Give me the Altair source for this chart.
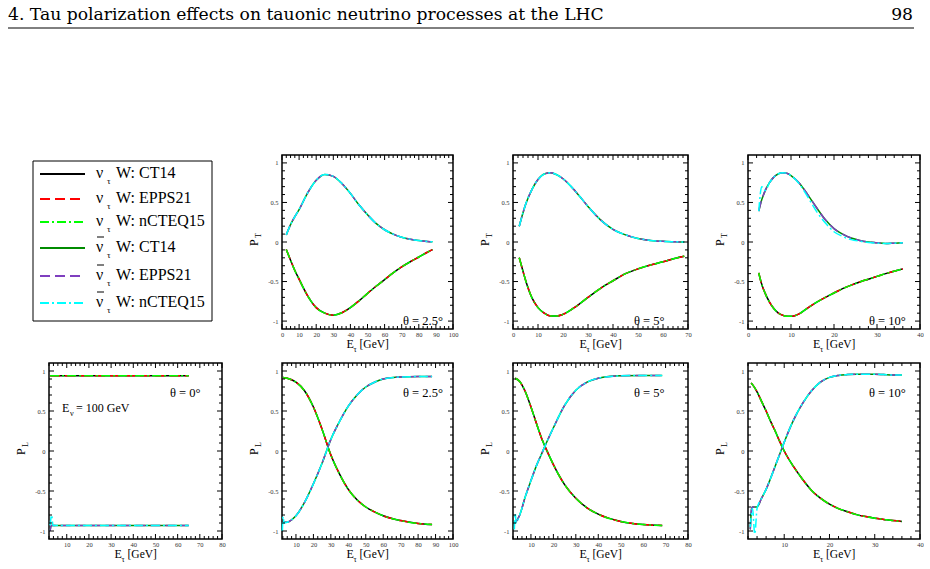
import altair as alt
import pandas as pd

FONT = "Liberation Serif"

# ---------------------------------------------------------------
# Polarisation curves (E_tau in GeV, polarisation value)
# ---------------------------------------------------------------
# P_T, theta = 2.5 deg
PT25_E = [2.5, 5, 7.5, 10, 15, 20, 25, 30, 35, 40, 45, 50, 55, 60, 65, 70, 75, 80, 85, 88]
PT25_NU = [-0.095, -0.23, -0.36, -0.47, -0.68, -0.83, -0.90, -0.925, -0.895, -0.83,
           -0.745, -0.65, -0.56, -0.475, -0.39, -0.315, -0.25, -0.19, -0.13, -0.097]
PT25_NUBAR = [0.09, 0.22, 0.32, 0.41, 0.62, 0.78, 0.855, 0.83, 0.74, 0.615,
              0.47, 0.345, 0.235, 0.155, 0.10, 0.06, 0.035, 0.018, 0.007, 0.003]

# P_T, theta = 5 deg
PT5_E = [2.5, 4, 5, 7.5, 10, 12.5, 15, 17.5, 20, 25, 30, 35, 40, 45, 50, 55, 60, 65, 68.5]
PT5_NU = [-0.20, -0.37, -0.48, -0.70, -0.83, -0.90, -0.935, -0.935, -0.915, -0.82,
          -0.70, -0.585, -0.49, -0.40, -0.34, -0.29, -0.25, -0.205, -0.18]
PT5_NUBAR = [0.20, 0.37, 0.47, 0.66, 0.79, 0.86, 0.875, 0.85, 0.80, 0.64,
             0.45, 0.28, 0.16, 0.09, 0.045, 0.02, 0.008, 0.003, 0.0]

# P_T, theta = 10 deg
PT10_E = [2.5, 3, 4, 5, 6, 7, 8, 9, 10, 12, 14, 16, 18, 20, 22, 24, 26, 28, 30, 32, 34, 36]
PT10_NU = [-0.39, -0.50, -0.65, -0.76, -0.84, -0.895, -0.925, -0.94, -0.94, -0.905, -0.83,
           -0.76, -0.70, -0.645, -0.59, -0.545, -0.505, -0.47, -0.435, -0.40, -0.37, -0.34]
PT10_NUBAR = [0.39, 0.50, 0.65, 0.75, 0.82, 0.86, 0.875, 0.87, 0.84, 0.74, 0.59,
              0.43, 0.28, 0.17, 0.10, 0.05, 0.02, 0.0, -0.01, -0.02, -0.015, -0.01]
PT10_NUBAR_NCTEQ_E = [2.5, 3.2, 4, 5, 6, 7, 8, 9, 10, 12, 14, 16, 18, 20, 22, 24, 26, 28, 30, 32, 34, 36]
PT10_NUBAR_NCTEQ = [0.39, 0.70, 0.65, 0.75, 0.82, 0.86, 0.875, 0.87, 0.84, 0.73, 0.56,
                    0.38, 0.24, 0.13, 0.07, 0.03, 0.01, -0.005, -0.015, -0.02, -0.015, -0.01]

# P_L, theta = 0 deg
PL0_E = [2.5, 65]
PL0_NU = [0.94, 0.94]
PL0_NUBAR_E = [2.5, 3.0, 20, 40, 65]
PL0_NUBAR = [-1.0, -0.93, -0.93, -0.93, -0.93]
PL0_NUBAR_NCTEQ_E = [2.5, 3.2, 3.8, 20, 40, 65]
PL0_NUBAR_NCTEQ = [-0.93, -0.80, -0.93, -0.93, -0.93, -0.93]

# P_L, theta = 2.5 deg
PL25_E = [2.5, 5, 7.5, 10, 15, 20, 25, 30, 35, 40, 45, 50, 55, 60, 70, 80, 88]
PL25_NU = [0.92, 0.91, 0.89, 0.86, 0.75, 0.55, 0.27, -0.05, -0.29, -0.48, -0.61,
           -0.70, -0.76, -0.81, -0.87, -0.905, -0.92]
PL25_NUBAR = [-0.89, -0.89, -0.86, -0.81, -0.64, -0.41, -0.15, 0.145, 0.37, 0.56,
              0.70, 0.80, 0.86, 0.90, 0.925, 0.93, 0.93]
PL25_NUBAR_NCTEQ_E = [2.2, 2.6, 3.2, 5, 7.5, 10, 15, 20, 25, 30, 35, 40, 45, 50, 55, 60, 70, 80, 88]
PL25_NUBAR_NCTEQ = [-1.0, -0.82, -0.90, -0.89, -0.86, -0.81, -0.64, -0.41, -0.15, 0.145,
                    0.37, 0.56, 0.70, 0.80, 0.86, 0.90, 0.925, 0.93, 0.93]

# P_L, theta = 5 deg
PL5_E = [3, 5, 7.5, 10, 12.5, 15, 17.5, 20, 25, 30, 35, 40, 50, 60, 68.5]
PL5_NU = [0.91, 0.87, 0.74, 0.55, 0.34, 0.14, -0.02, -0.17, -0.42, -0.59, -0.71,
          -0.79, -0.88, -0.92, -0.93]
PL5_NUBAR = [-0.90, -0.80, -0.57, -0.37, -0.18, -0.02, 0.14, 0.29, 0.57, 0.76, 0.86,
             0.91, 0.94, 0.945, 0.945]
PL5_NUBAR_NCTEQ_E = [2.6, 3.0, 3.4, 5, 7.5, 10, 12.5, 15, 17.5, 20, 25, 30, 35, 40, 50, 60, 68.5]
PL5_NUBAR_NCTEQ = [-0.98, -0.78, -0.90, -0.80, -0.57, -0.37, -0.18, -0.02, 0.14, 0.29,
                   0.57, 0.76, 0.86, 0.91, 0.94, 0.945, 0.945]

# P_L, theta = 10 deg
PL10_E = [2.7, 3, 4, 5, 6, 7, 8, 9, 10, 12, 14, 16, 18, 20, 22, 24, 26, 28, 30, 32, 34, 36]
PL10_NU = [0.85, 0.83, 0.74, 0.62, 0.50, 0.37, 0.25, 0.12, 0.0, -0.19, -0.35, -0.49,
           -0.59, -0.665, -0.72, -0.76, -0.795, -0.82, -0.84, -0.855, -0.87, -0.88]
PL10_NUBAR_E = [2.5, 2.8, 3.0, 4, 5, 6, 7, 8, 9, 10, 12, 14, 16, 18, 20, 22, 24, 26, 28, 30, 32, 34, 36]
PL10_NUBAR = [-0.98, -0.72, -0.70, -0.70, -0.59, -0.48, -0.34, -0.19, -0.04, 0.11, 0.38,
              0.59, 0.75, 0.86, 0.92, 0.945, 0.955, 0.96, 0.96, 0.96, 0.955, 0.95, 0.95]
PL10_NUBAR_NCTEQ_E = [2.5, 3.0, 3.5, 4, 5, 6, 7, 8, 9, 10, 12, 14, 16, 18, 20, 22, 24, 26, 28, 30, 32, 34, 36]
PL10_NUBAR_NCTEQ = [-0.95, -0.72, -1.04, -0.72, -0.59, -0.48, -0.34, -0.19, -0.04, 0.11, 0.38,
                    0.59, 0.75, 0.86, 0.92, 0.945, 0.955, 0.96, 0.96, 0.96, 0.955, 0.95, 0.95]

# ---------------------------------------------------------------
# Series styles: (particle, PDF set, colour, dash)
# ---------------------------------------------------------------
SERIES = [
    ("nu", "CT14", "#000000", None),
    ("nu", "EPPS21", "#ff0000", [10, 5]),
    ("nu", "nCTEQ15", "#00ff00", [9, 3, 2, 3]),
    ("nubar", "CT14", "#008b00", None),
    ("nubar", "EPPS21", "#7f3fbf", [10, 5]),
    ("nubar", "nCTEQ15", "#00ffff", [9, 3, 2, 3]),
]
LEGEND_PDF = ["CT14", "EPPS21", "nCTEQ15", "CT14", "EPPS21", "nCTEQ15"]

Y_MAJOR = [-1, -0.5, 0, 0.5, 1]
Y_MINOR = [round(-1.0 + 0.1 * i, 1) for i in range(21) if i % 5 != 0]


def text_layer(s, x, y, size, angle=0, align="left", baseline="alphabetic", font=FONT):
    return alt.Chart(pd.DataFrame({"t": [s]})).mark_text(
        font=font, fontSize=size, angle=angle, align=align, baseline=baseline, color="black"
    ).encode(text="t:N", x=alt.value(x), y=alt.value(y))


def panel(curves, xdom, xmajor, xminor, w, h, sub, theta, theta_y, extra=None):
    xscale = alt.Scale(domain=xdom, nice=False, zero=False)
    yscale = alt.Scale(domain=[-1.1, 1.1], nice=False, zero=False)
    xaxis = alt.Axis(values=xmajor, ticks=False, tickSize=0, domain=False, grid=False,
                     labelFont=FONT, labelFontSize=6.5, labelColor="#333", labelPadding=2,
                     labelExpr="'' + datum.value", title=None, labelFlush=False)
    yaxis = alt.Axis(values=Y_MAJOR, ticks=False, tickSize=0, domain=False, grid=False,
                     labelFont=FONT, labelFontSize=6.5, labelColor="#333", labelPadding=4,
                     labelExpr="'' + datum.value", title=None, labelFlush=False)

    def X(f):
        return alt.X(f, type="quantitative", scale=xscale, axis=xaxis)

    def Y(f):
        return alt.Y(f, type="quantitative", scale=yscale, axis=yaxis)

    layers = []
    for part, pdf, color, dash in SERIES:
        E, P = curves.get((part, pdf), curves[(part, "CT14")])
        df = pd.DataFrame({"E": E, "P": P})
        kw = dict(color=color, strokeWidth=1.5, interpolate="monotone")
        if dash:
            kw["strokeDash"] = dash
        layers.append(alt.Chart(df).mark_line(**kw).encode(x=X("E"), y=Y("P")))

    # inward ticks on all four sides
    for vals, ln in ((xmajor, 5), (xminor, 3)):
        base = alt.Chart(pd.DataFrame({"v": vals})).mark_rule(color="black", strokeWidth=1)
        layers.append(base.encode(x=X("v"), y=alt.value(h), y2=alt.value(h - ln)))
        layers.append(base.encode(x=X("v"), y=alt.value(0), y2=alt.value(ln)))
    for vals, ln in ((Y_MAJOR, 5), (Y_MINOR, 3)):
        base = alt.Chart(pd.DataFrame({"v": vals})).mark_rule(color="black", strokeWidth=1)
        layers.append(base.encode(y=Y("v"), x=alt.value(0), x2=alt.value(ln)))
        layers.append(base.encode(y=Y("v"), x=alt.value(w), x2=alt.value(w - ln)))

    # axis titles
    cx = w / 2
    layers.append(text_layer("E", cx - 21, h + 19, 12))
    layers.append(text_layer("τ", cx - 14, h + 23, 8))
    layers.append(text_layer("[GeV]", cx - 8, h + 19, 11.5))
    layers.append(text_layer("P", -24, h / 2 + 4, 12, angle=270))
    layers.append(text_layer(sub, -21, h / 2 - 4, 8, angle=270))

    layers.append(text_layer(theta, 121, theta_y, 12.5))
    if extra:
        layers.extend(extra)
    return alt.layer(*layers).properties(width=w, height=h)


def legend_panel(w, h):
    layers = []
    one = pd.DataFrame({"a": [0]})
    # page anchor (top-left corner of the page)
    layers.append(alt.Chart(one).mark_rule(strokeWidth=0, opacity=0).encode(
        x=alt.value(-49), x2=alt.value(-48), y=alt.value(-155)))
    # running header and rule
    layers.append(text_layer("4. Tau polarization effects on tauonic neutrino processes at the LHC",
                             -41, -135, 17.2, font="DejaVu Serif"))
    layers.append(text_layer("98", 864, -135, 17.2, align="right", font="DejaVu Serif"))
    layers.append(alt.Chart(one).mark_rule(color="black", strokeWidth=1).encode(
        x=alt.value(-41), x2=alt.value(865), y=alt.value(-127)))
    # legend frame
    layers.append(alt.Chart(one).mark_rect(
        fill="white", stroke="black", strokeWidth=1).encode(
        x=alt.value(-16), x2=alt.value(163), y=alt.value(6), y2=alt.value(166)))
    rows = [19, 44, 67, 93, 121, 148]
    for (part, pdf, color, dash), ry, lab in zip(SERIES, rows, LEGEND_PDF):
        kw = dict(color=color, strokeWidth=2)
        if dash:
            kw["strokeDash"] = dash
        layers.append(alt.Chart(one).mark_rule(**kw).encode(
            x=alt.value(-9), x2=alt.value(36), y=alt.value(ry)))
        layers.append(text_layer("ν", 47, ry + 4, 16))
        layers.append(text_layer("τ", 58, ry + 10, 9))
        layers.append(text_layer("W: " + lab, 67, ry + 4, 16))
        if part == "nubar":
            layers.append(alt.Chart(one).mark_rule(color="black", strokeWidth=1).encode(
                x=alt.value(48), x2=alt.value(55), y=alt.value(ry - 11)))
    return alt.layer(*layers).properties(width=w, height=h, view=alt.ViewBackground(stroke=None))


W = [173, 171, 175, 172]
H_TOP, H_BOT = 174, 176


def tens(a, b):
    return list(range(a, b + 1, 10))


def minor(a, b, step, major_step):
    out = []
    v = a
    while v <= b + 1e-9:
        if abs(v / major_step - round(v / major_step)) > 1e-6:
            out.append(round(v, 3))
        v += step
    return out


ev_note = [text_layer("E", 13, 49, 12), text_layer("ν", 21, 53, 8),
           text_layer("= 100 GeV", 27, 49, 12)]

panels = [
    legend_panel(W[0], H_TOP),
    panel({("nu", "CT14"): (PT25_E, PT25_NU), ("nubar", "CT14"): (PT25_E, PT25_NUBAR)},
          [0, 100], tens(0, 100), minor(0, 100, 2.5, 10), W[1], H_TOP, "T", "θ = 2.5°", 170),
    panel({("nu", "CT14"): (PT5_E, PT5_NU), ("nubar", "CT14"): (PT5_E, PT5_NUBAR)},
          [0, 70], tens(0, 70), minor(0, 70, 2, 10), W[2], H_TOP, "T", "θ = 5°", 170),
    panel({("nu", "CT14"): (PT10_E, PT10_NU), ("nubar", "CT14"): (PT10_E, PT10_NUBAR),
           ("nubar", "nCTEQ15"): (PT10_NUBAR_NCTEQ_E, PT10_NUBAR_NCTEQ)},
          [0, 40], tens(0, 40), minor(0, 40, 2, 10), W[3], H_TOP, "T", "θ = 10°", 170),
    panel({("nu", "CT14"): (PL0_E, PL0_NU), ("nubar", "CT14"): (PL0_NUBAR_E, PL0_NUBAR),
           ("nubar", "nCTEQ15"): (PL0_NUBAR_NCTEQ_E, PL0_NUBAR_NCTEQ)},
          [2, 80], tens(10, 80), minor(2, 80, 2, 10), W[0], H_BOT, "L", "θ = 0°", 34, extra=ev_note),
    panel({("nu", "CT14"): (PL25_E, PL25_NU), ("nubar", "CT14"): (PL25_E, PL25_NUBAR),
           ("nubar", "nCTEQ15"): (PL25_NUBAR_NCTEQ_E, PL25_NUBAR_NCTEQ)},
          [2, 100], tens(10, 100), minor(2.5, 100, 2.5, 10), W[1], H_BOT, "L", "θ = 2.5°", 34),
    panel({("nu", "CT14"): (PL5_E, PL5_NU), ("nubar", "CT14"): (PL5_E, PL5_NUBAR),
           ("nubar", "nCTEQ15"): (PL5_NUBAR_NCTEQ_E, PL5_NUBAR_NCTEQ)},
          [2, 80], tens(10, 80), minor(2, 80, 2, 10), W[2], H_BOT, "L", "θ = 5°", 34),
    panel({("nu", "CT14"): (PL10_E, PL10_NU), ("nubar", "CT14"): (PL10_NUBAR_E, PL10_NUBAR),
           ("nubar", "nCTEQ15"): (PL10_NUBAR_NCTEQ_E, PL10_NUBAR_NCTEQ)},
          [2, 40], tens(10, 40), minor(2, 40, 2, 10), W[3], H_BOT, "L", "θ = 10°", 34),
]

chart = alt.concat(
    *panels, columns=4, bounds="flush",
    spacing=alt.RowColnumber(row=34, column=60),
).properties(padding=0, background="white").configure_view(stroke="black", strokeWidth=1.5)

chart.save("out.html", embed_options={"renderer": "svg", "actions": False})
